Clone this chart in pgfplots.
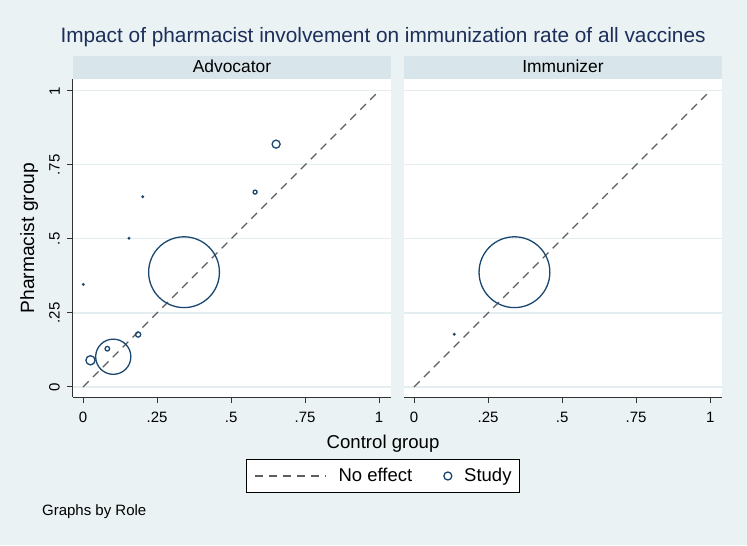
\documentclass[border=0pt]{standalone}
\usepackage{fontspec}
\setmainfont{Liberation Sans}
\usepackage{pgfplots}
\pgfplotsset{compat=1.18}
\usepackage{pgfplotstable}
\definecolor{bgc}{HTML}{EAF2F3}
\definecolor{stripc}{HTML}{D8E5EB}
\definecolor{gridc}{HTML}{E4EDEF}
\definecolor{navy}{HTML}{1A476F}
\definecolor{titlec}{HTML}{1C2E5A}
\definecolor{dashc}{HTML}{5E5E5E}
\definecolor{axc}{HTML}{333333}

\pgfplotstableread{
x y r
0.341 0.3875 17.7
0.652 0.820 2.0
0.581 0.658 1.0
0.2016 0.642 0.35
0.155 0.502 0.35
0.001 0.346 0.35
0.102 0.102 8.8
0.025 0.090 2.3
0.082 0.129 1.15
0.186 0.177 1.3
}\advdata
\pgfplotstableread{
x y r
0.339 0.3875 17.7
0.136 0.178 0.35
}\immdata

\pgfplotsset{
  panel/.style={
    width=159pt, height=159pt, scale only axis,
    xmin=-0.034, xmax=1.04, ymin=-0.034, ymax=1.04,
    axis background/.style={fill=white},
    axis x line*=bottom, axis y line*=left,
    axis line style={line width=0.5pt, axc},
    xtick={0,0.25,0.5,0.75,1}, xticklabels={0,.25,.5,.75,1},
    ytick={0,0.25,0.5,0.75,1}, yticklabels={0,.25,.5,.75,1},
    tick align=outside, major tick length=3pt,
    tick style={line width=0.5pt, axc},
    ymajorgrids, major grid style={gridc, line width=0.6pt},
    tick label style={font=\fontsize{7.5}{9}\selectfont, inner sep=0pt},
    xticklabel style={anchor=north},
    xticklabel shift=4.5pt,
    yticklabel style={rotate=90, anchor=south},
    yticklabel shift=3.4pt,
    clip=false,
  },
  studies/.style={scatter, only marks, mark=o, line width=0.65pt,
    scatter/use mapped color={draw=navy},
    visualization depends on={\thisrow{r}\as\rr},
    scatter/@pre marker code/.append style={/tikz/mark size=\rr}},
  noeff/.style={dashc, line width=0.6pt, dash pattern=on 4pt off 3pt},
}

\begin{document}
\begin{tikzpicture}
\fill[bgc] (0,0) rectangle (373.5pt,-272.5pt);
\begin{axis}[panel,
  at={(36.5pt,-198.5pt)}, anchor=south west,
  title={Impact of pharmacist involvement on immunization rate of all vaccines},
  every axis title/.style={at={(axis description cs:0.975,1.1142)}, anchor=base,
    font=\fontsize{10.4}{12}\selectfont, text=titlec, inner sep=0pt},
  xlabel={Control group},
  every axis x label/.style={at={(axis description cs:0.975,-0.1613)}, anchor=base,
    font=\fontsize{9.3}{11}\selectfont, inner sep=0pt},
  ylabel={Pharmacist group},
  every axis y label/.style={at={(axis description cs:-0.1226,0.5)}, rotate=90, anchor=base,
    font=\fontsize{9.6}{11}\selectfont, inner sep=0pt},
  legend columns=2,
  legend style={at={(axis description cs:0.975,-0.2484)}, anchor=center,
    draw=black, line width=0.5pt, fill=white, inner xsep=4pt, inner ysep=4pt,
    font=\fontsize{9.25}{11}\selectfont,
    nodes={inner sep=0pt},
    /tikz/every odd column/.append style={column sep=5.85pt},
    /tikz/every even column/.append style={column sep=15.5pt}},
]
\addplot[noeff, legend image code/.code={\draw[dashc, line width=0.6pt, dash pattern=on 4pt off 3pt] (0pt,0pt) -- (35.5pt,0pt);}] coordinates {(0,0) (1,1)};
\addlegendentry{No effect}
\addplot[studies, legend image code/.code={\draw[navy, line width=0.65pt] (2pt,0pt) circle (2pt);}] table[x=x,y=y] {\advdata};
\addlegendentry{Study}
\fill[stripc] (axis description cs:0,1) rectangle (axis description cs:1,1.0723);
\node[anchor=base, font=\fontsize{8.7}{10}\selectfont, inner sep=0pt] at (axis description cs:0.5,1.0211) {Advocator};
\node[anchor=base west, font=\fontsize{7.5}{9}\selectfont, inner sep=0pt] at (axis description cs:-0.0984,-0.3711) {Graphs by Role};
\end{axis}
\begin{axis}[panel,
  at={(202pt,-198.5pt)}, anchor=south west,
  yticklabels={}, y axis line style={draw=none}, ytick style={draw=none},
]
\addplot[noeff] coordinates {(0,0) (1,1)};
\addplot[studies] table[x=x,y=y] {\immdata};
\fill[stripc] (axis description cs:0,1) rectangle (axis description cs:1,1.0723);
\node[anchor=base, font=\fontsize{8.7}{10}\selectfont, inner sep=0pt] at (axis description cs:0.5,1.0211) {Immunizer};
\end{axis}
\pgfresetboundingbox
\path[use as bounding box] (0,0) rectangle (373.5pt,-272.5pt);
\end{tikzpicture}
\end{document}
